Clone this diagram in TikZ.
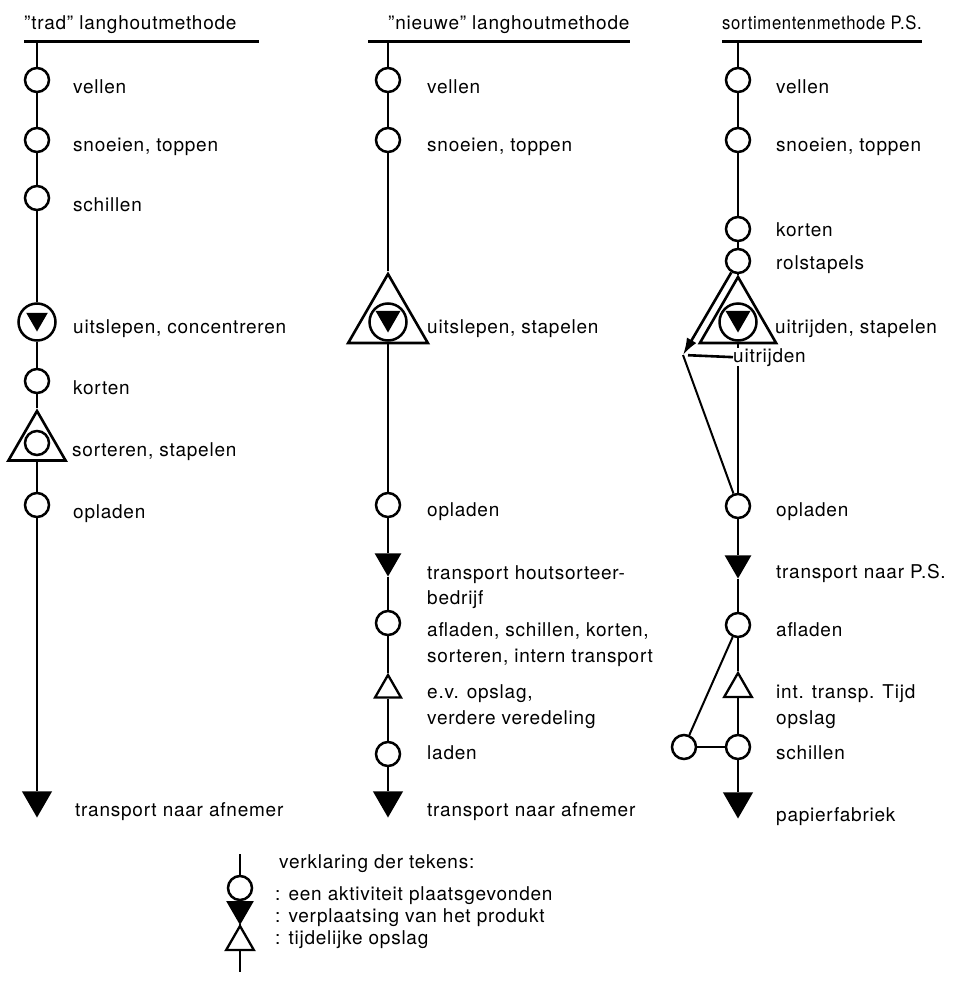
\documentclass[tikz,border=0pt]{standalone}
\usepackage{fontspec}
\setmainfont[LetterSpace=4]{TeX Gyre Heros}
\usetikzlibrary{arrows.meta,shapes.geometric}

\tikzset{
  stroom/.style={line width=2.6pt},
  dun/.style={line width=2pt},
  kop/.style={line width=3pt},
  akt/.style={circle,draw,fill=white,line width=2.5pt,inner sep=0pt,minimum size=24pt},
  grakt/.style={akt,minimum size=37pt},
  verpl/.style={regular polygon,regular polygon sides=3,regular polygon rotate=180,fill=black,inner sep=0pt,minimum size=33pt},
  opsl/.style={regular polygon,regular polygon sides=3,draw,fill=white,line width=2.3pt,inner sep=0pt,minimum size=30pt},
  lbl/.style={anchor=base west,inner sep=0pt,font=\fontsize{19}{23}\selectfont}
}

\begin{document}
\begin{tikzpicture}[x=1pt,y=-1pt]
            \fill[white] (0,0) rectangle (973,982);
            \useasboundingbox (0,0) rectangle (973,982);

            \node[lbl] (h1) at (24,30) {"trad" langhoutmethode};
            \node[lbl] (h2) at (388,30) {"nieuwe" langhoutmethode};
            \node[lbl,font=\fontsize{18.5}{23}\selectfont] (h3) at (722,30) {\scalebox{0.9}[1]{sortimentenmethode P.S.}};
            \draw[kop] (24,42) -- (259,42);
            \draw[kop] (368,42) -- (630,42);
            \draw[kop] (722,42) -- (922,42);

            % trad
            \coordinate (t1) at (37,42);
            \node[akt] (v1) at (37,80) {};
            \node[akt] (s1) at (37,140) {};
            \node[akt] (sc1) at (37,198) {};
            \node[grakt] (u1) at (37,322) {};
            \node[verpl,minimum size=25pt] (u1i) at (37,319) {};
            \node[akt] (k1) at (37,381) {};
            \node[opsl,minimum size=66pt,line width=2.6pt] (so1) at (37,444) {};
            \node[akt] (so1i) at (37,443) {};
            \node[akt] (o1) at (37,505) {};
            \node[verpl,minimum size=35pt] (e1) at (37,800) {};
            \draw[stroom] (t1) -- (v1) -- (s1) -- (sc1) -- (u1) -- (k1) -- (so1) -- (o1) -- (e1);

            \node[lbl] (l-v1) at (73,93) {vellen};
            \node[lbl] (l-s1) at (73,151) {snoeien, toppen};
            \node[lbl] (l-sc1) at (73,211) {schillen};
            \node[lbl] (l-u1) at (73,333) {uitslepen, concentreren};
            \node[lbl] (l-k1) at (73,394) {korten};
            \node[lbl] (l-so1) at (72,456) {sorteren, stapelen};
            \node[lbl] (l-o1) at (73,518) {opladen};
            \node[lbl] (l-e1) at (75,816) {transport naar afnemer};

            % nieuwe
            \coordinate (t2) at (388,42);
            \node[akt] (v2) at (388,80) {};
            \node[akt] (s2) at (388,140) {};
            \node[opsl,minimum size=92pt,line width=2.6pt] (u2) at (388,320) {};
            \node[grakt] (u2c) at (388,322) {};
            \node[verpl,minimum size=29pt] (u2i) at (388,318) {};
            \node[akt] (o2) at (388,505) {};
            \node[verpl,minimum size=31pt] (tr2) at (388,561) {};
            \node[akt] (a2) at (388,623) {};
            \node[opsl] (ev2) at (388,690) {};
            \node[akt] (la2) at (388,754) {};
            \node[verpl,minimum size=35pt] (e2) at (388,800) {};
            \draw[stroom] (t2) -- (v2) -- (s2) -- (u2) -- (o2) -- (tr2) -- (a2) -- (ev2) -- (la2) -- (e2);

            \node[lbl] (l-v2) at (427,93) {vellen};
            \node[lbl] (l-s2) at (427,151) {snoeien, toppen};
            \node[lbl] (l-u2) at (427,333) {uitslepen, stapelen};
            \node[lbl] (l-o2) at (427,516) {opladen};
            \node[lbl] (l-tr2a) at (427,579) {transport houtsorteer-};
            \node[lbl] (l-tr2b) at (427,604) {bedrijf};
            \node[lbl] (l-a2a) at (427,636) {afladen, schillen, korten,};
            \node[lbl] (l-a2b) at (427,662) {sorteren, intern transport};
            \node[lbl] (l-ev2a) at (427,698) {e.v. opslag,};
            \node[lbl] (l-ev2b) at (427,724) {verdere veredeling};
            \node[lbl] (l-la2) at (427,759) {laden};
            \node[lbl] (l-e2) at (427,816) {transport naar afnemer};

            % sortimenten
            \coordinate (t3) at (738,42);
            \node[akt] (v3) at (738,80) {};
            \node[akt] (s3) at (738,140) {};
            \node[akt] (k3) at (738,229) {};
            \node[akt] (r3) at (738,261) {};
            \node[opsl,minimum size=88pt,line width=2.6pt] (u3) at (738,321) {};
            \node[grakt] (u3c) at (738,322) {};
            \node[verpl,minimum size=29pt] (u3i) at (738,318) {};
            \node[lbl] (ui3) at (733,362) {uitrijden};
            \coordinate (knik) at (683,355);
            \node[akt] (o3) at (738,506) {};
            \node[verpl,minimum size=31pt] (tr3) at (738,563) {};
            \node[akt] (a3) at (738,625) {};
            \node[opsl,minimum size=32pt] (ev3) at (738,689) {};
            \node[akt] (sc3) at (738,747) {};
            \node[akt] (sc3b) at (684,747) {};
            \node[verpl,minimum size=35pt] (e3) at (738,801) {};
            \draw[stroom] (t3) -- (v3) -- (s3) -- (k3) -- (r3) -- (u3);
            \draw[stroom] (u3.south) -- (u3.south |- ui3.north);
            \draw[stroom] (u3.south |- ui3.south) -- (o3) -- (tr3) -- (a3) -- (ev3) -- (sc3) -- (e3);
            \draw[stroom,-{Latex[length=17pt,width=11pt]}] (r3) -- (knik);
            \draw[stroom,shorten >=5pt] (ui3.west) -- (knik);
            \draw[dun] (knik) -- (o3);
            \draw[stroom] (sc3b) -- (sc3);
            \draw[dun] (sc3b) -- (a3);

            \node[lbl] (l-v3) at (776,93) {vellen};
            \node[lbl] (l-s3) at (776,151) {snoeien, toppen};
            \node[lbl] (l-k3) at (776,236) {korten};
            \node[lbl] (l-r3) at (776,269) {rolstapels};
            \node[lbl] (l-u3) at (775,333) {uitrijden, stapelen};
            \node[lbl] (l-o3) at (776,516) {opladen};
            \node[lbl] (l-tr3) at (776,578) {transport naar P.S.};
            \node[lbl] (l-a3) at (776,636) {afladen};
            \node[lbl] (l-ev3a) at (776,698) {int. transp. Tijd};
            \node[lbl] (l-ev3b) at (776,724) {opslag};
            \node[lbl] (l-sc3) at (776,759) {schillen};
            \node[lbl] (l-e3) at (776,821) {papierfabriek};

            % verklaring
            \coordinate (lt) at (240,854);
            \node[akt] (lc) at (240,888) {};
            \node[verpl,minimum size=32pt] (lv) at (240,909) {};
            \node[opsl,minimum size=32pt] (lo) at (240,942) {};
            \coordinate (lb) at (240,972);
            \draw[stroom] (lt) -- (lc) -- (lv) -- (lo) -- (lb);
            \node[lbl] (l-titel) at (279,868) {verklaring der tekens:};
            \node[lbl] (l-lc) at (275,900) {: een aktiviteit plaatsgevonden};
            \node[lbl] (l-lv) at (275,922) {: verplaatsing van het produkt};
            \node[lbl] (l-lo) at (275,944) {: tijdelijke opslag};
        \end{tikzpicture}
\end{document}
